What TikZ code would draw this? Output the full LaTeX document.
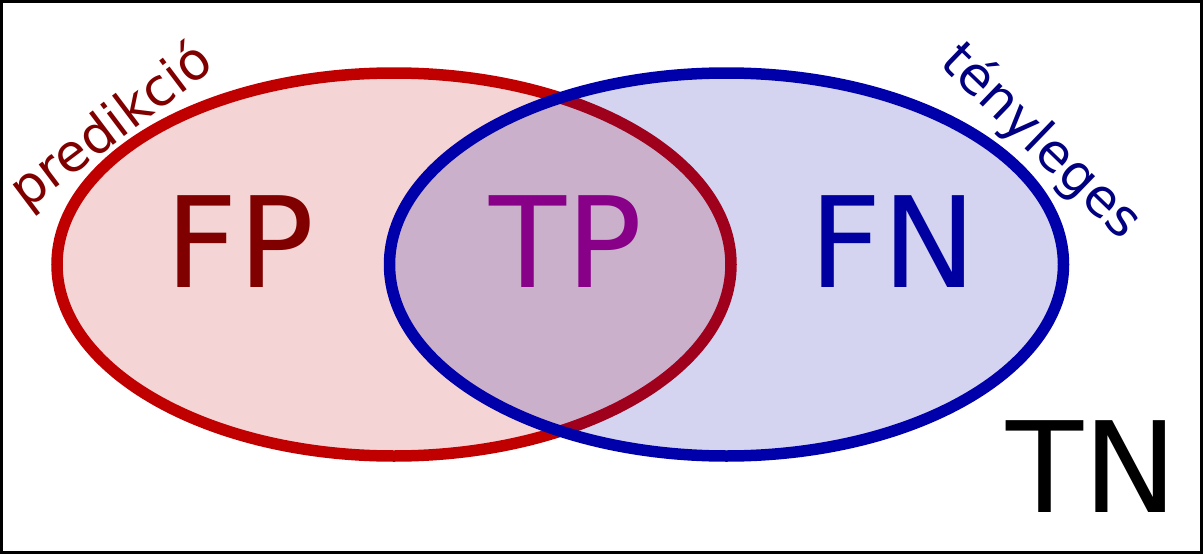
\documentclass[tikz,border=0pt]{standalone}
\usepackage{fontspec}
\setmainfont{DejaVu Sans}
\definecolor{predred}{HTML}{C00000}
\definecolor{actblue}{HTML}{0000AA}
\definecolor{fpcol}{HTML}{800000}
\definecolor{tpcol}{HTML}{880088}
\definecolor{fncol}{HTML}{0000A0}
\definecolor{labblue}{HTML}{000080}
\begin{document}
\begin{tikzpicture}[x=1pt,y=-1pt,
  setstyle/.style={line width=11.5pt,fill opacity=0.17},
  bigtxt/.style={inner sep=0pt,anchor=base,font=\fontsize{126}{126}\selectfont},
  labtxt/.style={inner sep=0pt,anchor=base,font=\fontsize{52}{52}\selectfont}]
\useasboundingbox (0,0) rectangle (1203,554);
\draw[line width=3pt] (1.5,1.5) rectangle (1201.5,552.5);
\coordinate (cp) at (394,264.5);
\coordinate (ca) at (726.5,264.5);
\draw[setstyle,draw=predred,fill=predred] (cp) ellipse [x radius=337,y radius=191.5];
\draw[setstyle,draw=actblue,fill=actblue] (ca) ellipse [x radius=337,y radius=191.5];
\node[bigtxt,text=fpcol] (fp) at (240,287) {FP};
\node[bigtxt,text=tpcol] (tp) at (566,287) {TP};
\node[bigtxt,text=fncol] (fn) at (893,287) {FN};
\node[bigtxt,text=black] (tn) at (1092,512) {TN};
\node[labtxt,text=fpcol,rotate=37] (pred) at (121,139) {predikció};
\node[labtxt,text=labblue,rotate=-44] (teny) at (1030,153) {tényleges};
\end{tikzpicture}
\end{document}
